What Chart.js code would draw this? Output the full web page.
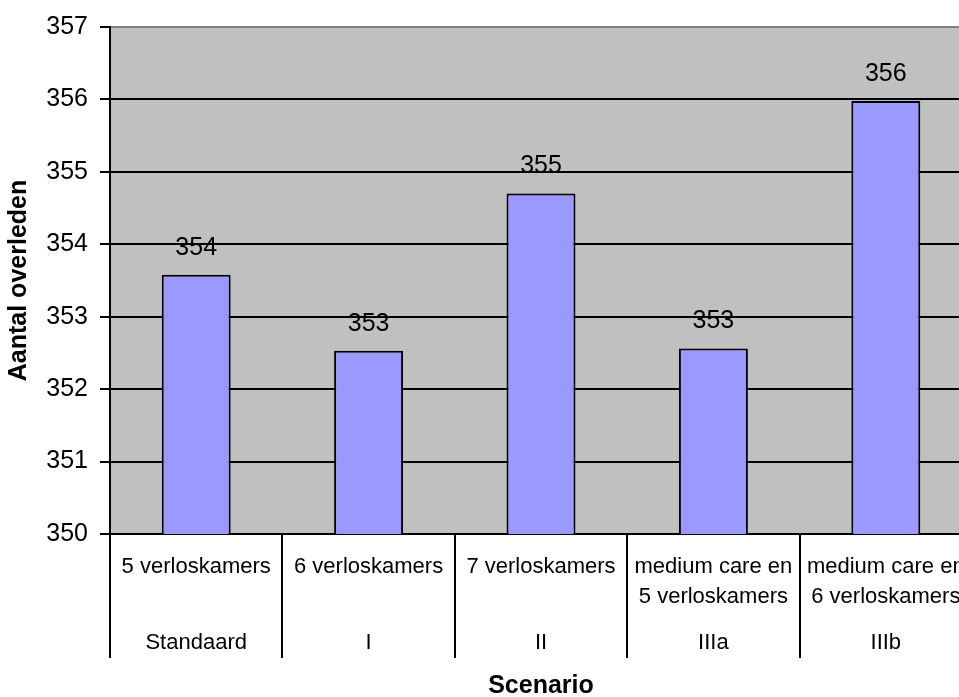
<!DOCTYPE html>
<html>
<head>
<meta charset="utf-8">
<script src="https://cdn.jsdelivr.net/npm/chart.js@4/dist/chart.umd.min.js"></script>
<style>
  html, body { margin: 0; padding: 0; background: #fff; overflow: hidden; }
  canvas { display: block; }
</style>
</head>
<body>
<canvas id="myBarChart" width="975" height="697"></canvas>
<script>
// first label row (number of delivery rooms), second row (scenario name)
const categories = [
  ["5 verloskamers"],
  ["6 verloskamers"],
  ["7 verloskamers"],
  ["medium care en", "5 verloskamers"],
  ["medium care en", "6 verloskamers"],
];
const scenarios = ["Standaard", "I", "II", "IIIa", "IIIb"];
const deaths = [353.58, 352.53, 354.70, 352.56, 355.98];
const yTicks = [350, 351, 352, 353, 354, 355, 356, 357];

Chart.defaults.font.family = "Arial, 'Liberation Sans', sans-serif";
Chart.defaults.color = "#000";

const plotBackground = {
  id: "plotBackground",
  beforeDraw(chart) {
    const { ctx, chartArea: a } = chart;
    ctx.save();
    ctx.fillStyle = "#c0c0c0";
    ctx.fillRect(a.left, a.top, a.right - a.left, a.bottom - a.top);
    ctx.restore();
  },
};

// rounded value above each bar
const valueLabels = {
  id: "valueLabels",
  afterDatasetsDraw(chart) {
    const { ctx } = chart;
    ctx.save();
    ctx.font = "25px Arial, 'Liberation Sans', sans-serif";
    ctx.fillStyle = "#000";
    ctx.textAlign = "center";
    ctx.textBaseline = "middle";
    chart.getDatasetMeta(0).data.forEach((bar, i) => {
      ctx.fillText(String(Math.round(deaths[i])), bar.x, bar.y - 27);
    });
    ctx.restore();
  },
};

new Chart(document.getElementById("myBarChart").getContext("2d"), {
  type: "bar",
  data: {
    labels: categories,
    datasets: [{
      data: deaths,
      xAxisID: "x",
      backgroundColor: "#9999ff",
      borderColor: "#000",
      borderWidth: 2,
      barPercentage: 0.4,
      categoryPercentage: 1,
    }],
  },
  options: {
    responsive: false,
    animation: false,
    devicePixelRatio: 1,
    layout: { padding: { top: 24, right: 3, bottom: 0, left: 0 } },
    plugins: { legend: { display: false }, tooltip: { enabled: false } },
    scales: {
      x: {
        offset: true,
        // separators between categories run down through both label rows
        grid: { offset: true, drawOnChartArea: false, tickLength: 124, color: "#000", lineWidth: 2 },
        border: { color: "#000", width: 2 },
        ticks: { font: { size: 22, lineHeight: 1.364 }, color: "#000", padding: -106, autoSkip: false, maxRotation: 0 },
        afterFit(s) { s.height = 85; },
      },
      x2: {
        type: "category",
        labels: scenarios,
        position: "bottom",
        offset: true,
        grid: { display: false, drawTicks: false },
        border: { display: false },
        ticks: { font: { size: 22, lineHeight: 1.364 }, color: "#000", padding: 9, autoSkip: false, maxRotation: 0 },
        title: { display: true, text: "Scenario", font: { size: 25, weight: "bold" }, color: "#000", padding: { top: 0, bottom: -4 } },
        afterFit(s) { s.height = 78; },
      },
      y: {
        min: yTicks[0],
        max: yTicks[yTicks.length - 1],
        ticks: { stepSize: 1, font: { size: 25 }, color: "#000", padding: 12 },
        grid: {
          color: (c) => (c.tick && c.tick.value === yTicks[yTicks.length - 1] ? "#808080" : "#000"),
          tickColor: "#000",
          lineWidth: 2,
          tickLength: 10,
        },
        border: { color: "#000", width: 2 },
        title: { display: true, text: "Aantal overleden", font: { size: 25, weight: "bold" }, color: "#000", padding: { top: 4, bottom: 0 } },
        afterFit(s) { s.width = 110; },
      },
    },
  },
  plugins: [plotBackground, valueLabels],
});
</script>
</body>
</html>
